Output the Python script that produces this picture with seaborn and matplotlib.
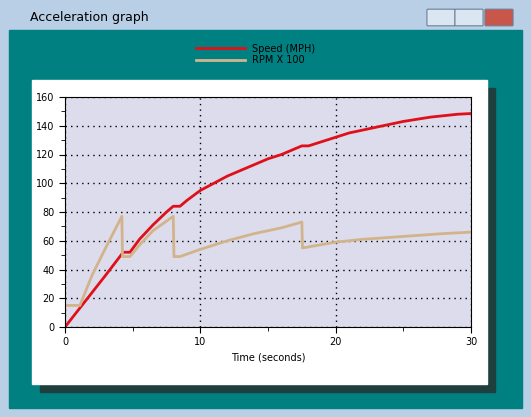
import matplotlib
matplotlib.use("Agg")
import matplotlib.pyplot as plt
import seaborn as sns
import pandas as pd
from matplotlib.patches import Rectangle, FancyBboxPatch

time_speed = [0, 1, 2, 3, 4.3, 4.8, 5.5, 6.5, 7.5, 8.0, 8.5, 9, 10, 11, 12, 13, 14, 15, 16, 17, 17.5, 18, 19, 20, 21, 22, 23, 24, 25, 26, 27, 28, 29, 30]
speed = [0, 12, 24, 36, 52, 52, 61, 71, 80, 84, 84, 88, 95, 100, 105, 109, 113, 117, 120, 124, 126, 126, 129, 132, 135, 137, 139, 141, 143, 144.5, 146, 147, 148, 148.5]
time_rpm = [0, 1.1, 2, 3, 4.2, 4.25, 4.8, 5.5, 6.5, 8.0, 8.05, 8.5, 10, 12, 14, 16, 17.5, 17.55, 20, 22, 25, 28, 30]
rpm = [15, 15, 36, 55, 77, 49, 49, 57, 67, 77, 49, 49, 54, 60, 65, 69, 73, 55, 59, 61, 63, 65, 66]
series_names = ["Speed (MPH)", "RPM X 100"]

W, H = 531, 417
fig = plt.figure(figsize=(W / 100, H / 100), dpi=100)
fig.patch.set_facecolor("#b9cfe6")

def px(x, y, w, h):
    return (x / W, 1 - (y + h) / H, w / W, h / H)

fig.patches.append(Rectangle(px(9, 30, 513, 378)[:2], 513 / W, 378 / H, transform=fig.transFigure, color="#008080", zorder=0))
fig.patches.append(Rectangle(px(40, 88, 455, 304)[:2], 455 / W, 304 / H, transform=fig.transFigure, color="#1f3f3f", zorder=1))
fig.patches.append(Rectangle(px(32, 80, 455, 304)[:2], 455 / W, 304 / H, transform=fig.transFigure, color="white", zorder=2))
fig.text(30 / W, 1 - 17 / H, "Acceleration graph", fontsize=9, va="center", family="DejaVu Sans")
for bx, c in [(428, "#dbe6f3"), (456, "#dbe6f3"), (486, "#c9564a")]:
    fig.patches.append(FancyBboxPatch(((bx) / W, 1 - 25 / H), 26 / W, 15 / H, boxstyle="round,pad=0.002",
                                      transform=fig.transFigure, fc=c, ec="#6d7f96", lw=0.8, zorder=3))

ax = fig.add_axes(px(65, 97, 406, 230))
ax.set_zorder(5)
ax.set_facecolor("#dcdcec")
df1 = pd.DataFrame({"t": time_speed, "v": speed})
df2 = pd.DataFrame({"t": time_rpm, "v": rpm})
sns.lineplot(data=df1, x="t", y="v", sort=False, ax=ax, color="#e0101a", lw=2, label=series_names[0])
sns.lineplot(data=df2, x="t", y="v", sort=False, ax=ax, color="#d2b48c", lw=2, label=series_names[1])
ax.set_xlim(0, 30)
ax.set_ylim(0, 160)
ax.set_xticks([0, 10, 20, 30])
ax.set_xticks([5, 15, 25], minor=True)
ax.set_yticks(range(0, 161, 20))
ax.set_yticks(range(10, 160, 20), minor=True)
ax.tick_params(labelsize=7, length=4, direction="out")
ax.tick_params(which="minor", length=3)
ax.grid(True, which="major", color="black", ls=(0, (1, 3)), lw=1)
ax.set_xlabel("Time (seconds)", fontsize=7)
ax.set_ylabel("")
for s in ax.spines.values():
    s.set_color("black")
ax.legend(loc="upper center", bbox_to_anchor=(0.47, 1.27), frameon=False, fontsize=7,
          handlelength=5, labelspacing=0.15)
fig.savefig("out.png", dpi=100, facecolor=fig.get_facecolor())
